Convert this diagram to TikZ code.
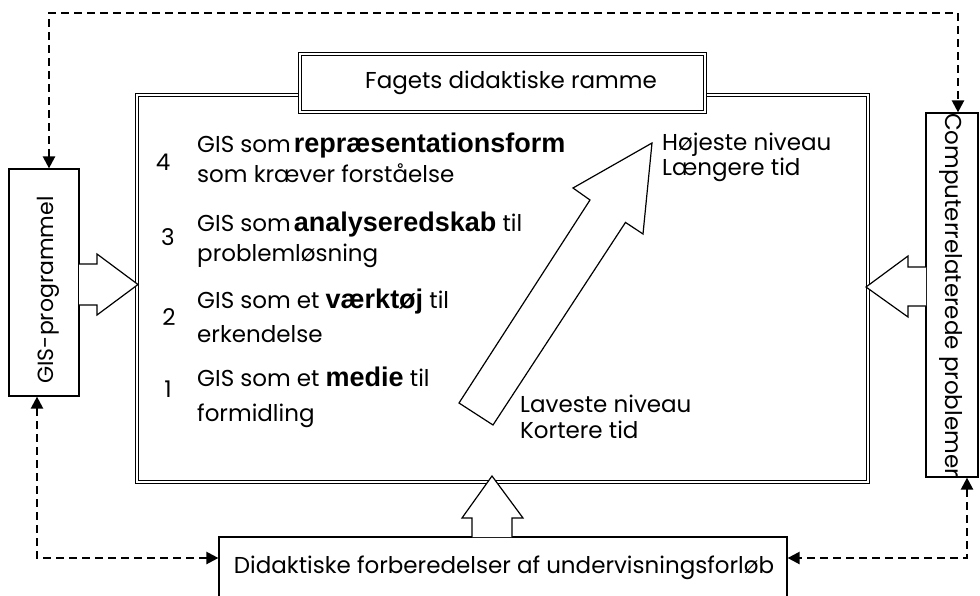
\documentclass[tikz,border=0pt]{standalone}
\usepackage{fontspec}
\setmainfont{Poppins}
\newfontfamily\boldfont{Liberation Sans}
\usetikzlibrary{arrows.meta}
\newcommand\bw[1]{{\boldfont\bfseries\fontsize{27}{31}\selectfont #1}}
\begin{document}
\begin{tikzpicture}[x=1pt,y=-1pt,
  thinbox/.style={draw, line width=1.2pt, fill=white, inner sep=0pt},
  dblbox/.style={draw, line width=1.8pt, double=white, double distance=1.1pt, inner sep=0pt},
  dashlink/.style={line width=2.3pt, dash pattern=on 8pt off 5pt,
     {Triangle[length=12pt,width=12pt]}-{Triangle[length=12pt,width=12pt]}},
  blockarrow/.style={draw, line width=1.2pt, fill=white, line join=miter},
  txt/.style={font=\fontsize{23}{27}\selectfont, inner sep=0pt},
  vtxt/.style={font=\fontsize{22}{26}\selectfont, inner sep=0pt}]
\useasboundingbox (0,0) rectangle (980,595);
\fill[white] (0,0) rectangle (980,595);

% boxes
\node[dblbox, minimum width=731pt, minimum height=387pt] (frame) at (502.5,288.5) {};
\node[dblbox, fill=white, minimum width=405pt, minimum height=58pt] (title) at (502.5,83) {};
\node[thinbox, minimum width=70pt, minimum height=227pt] (gis) at (44,282.5) {};
\node[thinbox, minimum width=52pt, minimum height=364pt] (comp) at (952,295) {};
\node[thinbox, minimum width=568pt, minimum height=68pt] (didak) at (503,571) {};

% texts
\node[txt, anchor=base] (titletext) at (511,88) {Fagets didaktiske ramme};
\node[vtxt, rotate=90, anchor=base] (gistext) at (53,290) {GIS-programmel};
\node[vtxt, font=\fontsize{23}{27}\selectfont, rotate=-90, anchor=base] (comptext) at (945,295) {Computerrelaterede problemer};
\node[txt, anchor=base] (didaktext) at (504,573) {Didaktiske forberedelser af undervisningsforløb};

\node[txt, anchor=base] (n4) at (163,170) {4};
\node[txt, anchor=base west] (l4a) at (197,152) {GIS som\kern3pt\bw{repræsentationsform}};
\node[txt, anchor=base west] (l4b) at (197,182) {som kræver forståelse};
\node[txt, anchor=base] (n3) at (168,245) {3};
\node[txt, anchor=base west] (l3a) at (197,231) {GIS som\kern3pt\bw{analyseredskab} til};
\node[txt, anchor=base west] (l3b) at (197,261) {problemløsning};
\node[txt, anchor=base] (n2) at (169,325) {2};
\node[txt, anchor=base west] (l2a) at (197,308) {GIS som et \bw{værktøj} til};
\node[txt, anchor=base west] (l2b) at (197,342) {erkendelse};
\node[txt, anchor=base] (n1) at (168,397) {1};
\node[txt, anchor=base west] (l1a) at (197,386) {GIS som et \bw{medie} til};
\node[txt, anchor=base west] (l1b) at (197,421) {formidling};

\node[txt, anchor=base west] (hi1) at (662,150) {Højeste niveau};
\node[txt, anchor=base west] (hi2) at (662,175) {Længere tid};
\node[txt, anchor=base west] (lo1) at (520,412) {Laveste niveau};
\node[txt, anchor=base west] (lo2) at (520,438) {Kortere tid};

% block arrows
\draw[blockarrow] (79,264) -- (97,264) -- (97,254) -- (138,284.5) -- (97,315) -- (97,305) -- (79,305);
\draw[blockarrow] (926,267) -- (908,267) -- (908,256) -- (866,287) -- (908,317) -- (908,306) -- (926,306);
\draw[blockarrow] (472,537) -- (472,518) -- (462,518) -- (492,476) -- (523,518) -- (512,518) -- (512,537);
\draw[blockarrow] (652,143) -- (573,188) -- (590,200) -- (459,403) -- (493,425) -- (625.5,222.4) -- (643,234) -- cycle;

% dashed connectors
\coordinate (tl) at (49,13);
\coordinate (tr) at (958,13);
\coordinate (bl) at (37,558);
\coordinate (br) at (967,558);
\draw[dashlink] ([xshift=5pt]gis.north) -- (tl) -- (tr) -- ([xshift=6pt]comp.north);
\draw[dashlink] ([xshift=-7pt]gis.south) -- (bl) -- (didak.west |- bl);
\draw[dashlink] ([xshift=15pt]comp.south) -- (br) -- (didak.east |- br);
\end{tikzpicture}
\end{document}
